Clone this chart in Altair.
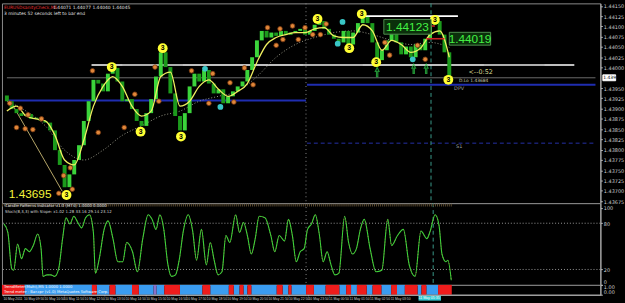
import altair as alt
import pandas as pd

# ---------------- data ----------------
# closes of the M5 bars, bar index 0..92
close_price = [1.43918, 1.43899, 1.43889, 1.43882, 1.43887, 1.43875, 1.43878, 1.43870, 1.43866, 1.43847,
               1.43799, 1.43763, 1.43709, 1.43740, 1.43775, 1.43811, 1.43870, 1.43918, 1.43970, 1.43961,
               1.43942, 1.43985, 1.43999, 1.43966, 1.43918, 1.43923, 1.43899, 1.43870, 1.43858, 1.43889,
               1.43923, 1.43978, 1.44037, 1.44001, 1.43937, 1.43882, 1.43847, 1.43889, 1.43954, 1.43985,
               1.43966, 1.43994, 1.43961, 1.43937, 1.43947, 1.43913, 1.43930, 1.43942, 1.43954, 1.43966,
               1.43994, 1.44025, 1.44066, 1.44089, 1.44073, 1.44085, 1.44077, 1.44089, 1.44080, 1.44085,
               1.44089, 1.44094, 1.44080, 1.44089, 1.44104, 1.44113, 1.44094, 1.44080, 1.44070, 1.44061,
               1.44089, 1.44056, 1.44085, 1.44108, 1.44123, 1.44108, 1.44061, 1.44018, 1.44042, 1.44066,
               1.44089, 1.44061, 1.44032, 1.44051, 1.44025, 1.44056, 1.44042, 1.44070, 1.44104, 1.44113,
               1.44080, 1.44037, 1.43975]
first_open = 1.43932

# fast moving average, every 2nd bar
ma_fast = [1.43894, 1.43906, 1.43882, 1.43875, 1.43870, 1.43835, 1.43775, 1.43763, 1.43823, 1.43906,
           1.43954, 1.43978, 1.43954, 1.43906, 1.43882, 1.43894, 1.43978, 1.43989, 1.43906, 1.43918,
           1.43954, 1.43970, 1.43947, 1.43930, 1.43942, 1.43961, 1.44013, 1.44056, 1.44073, 1.44080,
           1.44085, 1.44085, 1.44094, 1.44097, 1.44077, 1.44073, 1.44073, 1.44104, 1.44089, 1.44042,
           1.44066, 1.44056, 1.44037, 1.44047, 1.44080, 1.44089, 1.44025]
# slow moving average (dotted), every 4th bar
ma_slow = [1.43918, 1.43894, 1.43858, 1.43799, 1.43775, 1.43799, 1.43835, 1.43858, 1.43882, 1.43894,
           1.43918, 1.43930, 1.43942, 1.43978, 1.44025, 1.44056, 1.44073, 1.44085, 1.44089, 1.44080,
           1.44066, 1.44056, 1.44061, 1.44049]

trend_bar = [1.0, 11.5]
trend_price = [1.43913, 1.43699]

orange_bar = [0.6, 2.8, 4.4, 7.2, 2.0, 3.8, 5.4, 17.8, 19.0, 24.4, 26.6, 30.8, 31.6, 38.4, 13.2, 11.8, 10.8,
              13.6, 42.8, 42.0, 46.4, 47.2, 49.4, 51.2, 54.2, 56.0, 56.8, 57.4, 59.4, 60.6, 62.0, 63.6,
              65.2, 66.4, 78.6, 79.6, 85.4, 87.0]
orange_price = [1.43913, 1.43901, 1.43885, 1.43875, 1.43854, 1.43851, 1.43849, 1.43992, 1.43842, 1.43854,
                1.43935, 1.44001, 1.43918, 1.43992, 1.43756, 1.43737, 1.43694, 1.43704, 1.43985, 1.43913,
                1.43963, 1.43916, 1.43999, 1.43958, 1.44097, 1.44054, 1.44094, 1.44068, 1.44101, 1.44068,
                1.44097, 1.44080, 1.44080, 1.44106, 1.44061, 1.44030, 1.44054, 1.44020]
cyan_bar = [41.2, 44.4, 68.8, 69.8, 81.0, 84.4]
cyan_price = [1.43997, 1.43904, 1.44058, 1.44111, 1.44094, 1.44020]
wave_bar = [12.4, 21.8, 27.8, 32.4, 36.2, 64.6, 71.2, 73.8, 76.8, 89.0, 91.8]
wave_price = [1.43690, 1.44001, 1.43844, 1.44047, 1.43832, 1.44118, 1.44047, 1.44130, 1.44013, 1.44116, 1.43970]
wave_label = ["3"] * 11
arrow_bar = [77.0, 84.6, 87.2]
arrow_price = [1.43989, 1.43997, 1.43997]

# horizontal levels
sr_price = [1.44006, 1.44125]
sr_from = [17.6, 73.8]
sr_to = [118.0, 93.8]
sr_grey_from = [24.0, 61.6, 99.2]
sr_grey_to = [36.6, 74.0, 111.8]
bid_price = 1.43975
prev_pivot = 1.43920
dpv_price = 1.43958
s1_price = 1.43816
red_price = [1.44101, 1.44070]
red_from = [86.4, 87.2]
red_to = [89.0, 91.0]
day_sep_bar = 62.2
cursor_bar = 88.2
x_end = 122.4
last_bar = 92.0

price_ticks = [1.43675, 1.43700, 1.43725, 1.43750, 1.43775, 1.43800, 1.43825, 1.43850, 1.43875, 1.43900,
               1.43925, 1.43950, 1.44000, 1.44025, 1.44050, 1.44075, 1.44100, 1.44125, 1.44150]

# stochastic
stoch_bar = [0.4, 1.2, 2.0, 2.4, 3.2, 4.0, 4.8, 5.6, 6.4, 7.3,
             8.0, 8.4, 9.2, 10.0, 10.8, 11.6, 12.4, 13.1, 13.9, 14.7,
             15.5, 16.3, 17.1, 17.9, 18.7, 19.1, 19.9, 20.9, 21.7, 22.7,
             23.7, 24.7, 25.5, 26.7, 27.7, 28.8, 29.9, 30.7, 31.5, 32.3,
             33.1, 33.9, 34.7, 35.5, 36.3, 37.1, 38.1, 39.0, 39.8, 40.8,
             41.8, 42.6, 43.4, 44.2, 45.0, 45.8, 46.6, 47.8, 48.6, 49.4,
             50.2, 51.0, 51.8, 52.6, 53.8, 55.0, 55.8, 56.7, 57.8, 58.6,
             59.4, 60.2, 61.0, 61.8, 62.5, 63.3, 64.1, 64.9, 65.7, 66.5,
             67.3, 68.1, 68.9, 70.1, 70.9, 71.7, 72.5, 73.3, 74.1, 75.3,
             76.5, 77.7, 78.9, 79.7, 80.9, 82.1, 83.3, 84.5, 85.7, 86.9,
             87.6, 88.6, 89.4, 90.0, 90.8, 91.2, 91.9]
stoch_val = [79, 68, 21, 19, 53, 34, 47, 43, 51, 66,
             47, 11, 13, 13, 11, 21, 60, 87, 79, 89,
             81, 74, 87, 91, 68, 15, 34, 72, 83, 60,
             30, 30, 55, 43, 17, 60, 91, 85, 72, 91,
             72, 28, 11, 13, 34, 70, 91, 70, 32, 72,
             26, 55, 32, 13, 17, 64, 55, 91, 68, 81,
             64, 40, 60, 89, 87, 64, 43, 64, 57, 85,
             64, 30, 43, 47, 72, 79, 91, 66, 30, 43,
             26, 13, 15, 89, 55, 40, 47, 72, 85, 47,
             17, 19, 85, 51, 64, 72, 26, 11, 70, 60,
             70, 91, 77, 40, 30, 32, 6]
stoch_levels = [20, 80]
stoch_ticks = [0, 20, 80, 100]
assert len(stoch_bar) == len(stoch_val)

# trend meter strip
strip_from = [0, 4.6, 18.4, 19.4, 22, 23.2, 26.6, 28, 31, 31.6, 33.2, 36.4, 41, 42.6, 46.4, 47.4, 48.6,
              49.4, 50.2, 51, 56.2, 57.4, 58.6, 59.2, 62.2, 63.8, 66.2, 69, 70.4, 71.4, 72.6, 74.6, 75.8,
              77.6, 79.6, 80.8, 82.4, 85, 85.8, 86.8, 89.2]
strip_to = strip_from[1:] + [92.0]
strip_state = ["down", "up", "down", "up", "down", "up", "down", "up", "flat", "up", "down", "up", "down",
               "up", "down", "up", "down", "up", "down", "up", "down", "up", "down", "up", "down", "up",
               "down", "up", "down", "up", "down", "up", "down", "up", "down", "up", "down", "up", "down",
               "up", "down"]
assert len(strip_from) == len(strip_state)

x_ticks = [0.2, 4.4, 8.6, 12.6, 16.8, 21.0, 25.2, 29.4, 33.6, 37.6, 41.8, 46.0, 50.2, 54.4, 58.6, 62.6,
           66.8, 71.0, 75.2, 79.4]
x_tick_labels = ["10 May 2011", "10 May 09:50", "10 May 10:50", "10 May 11:50", "10 May 12:50",
                 "10 May 13:50", "10 May 14:50", "10 May 15:50", "10 May 16:50", "10 May 17:50",
                 "10 May 18:50", "10 May 19:50", "10 May 20:50", "10 May 21:50", "10 May 22:50",
                 "10 May 23:50", "11 May 00:50", "11 May 01:50", "11 May 02:50", "11 May 03:50"]
cursor_label = "11 May 05:35"

# ---------------- frames ----------------
n = len(close_price)
opens = [first_open] + close_price[:-1]
candles = pd.DataFrame({"bar": list(range(n)), "open": opens, "close": close_price,
                        "dir": ["up" if c >= o else "down" for o, c in zip(opens, close_price)]})
fast_df = pd.DataFrame({"bar": list(range(0, 93, 2)), "p": ma_fast})
slow_df = pd.DataFrame({"bar": list(range(0, 93, 4)), "p": ma_slow})
trend_df = pd.DataFrame({"bar": trend_bar, "p": trend_price})
orange_df = pd.DataFrame({"bar": orange_bar, "p": orange_price})
cyan_df = pd.DataFrame({"bar": cyan_bar, "p": cyan_price})
wave_df = pd.DataFrame({"bar": wave_bar, "p": wave_price, "t": wave_label})
arrow_df = pd.DataFrame({"bar": arrow_bar, "p": arrow_price})
sr_df = pd.DataFrame({"x0": sr_from, "x1": sr_to, "p": sr_price})
srg_df = pd.DataFrame({"x0": sr_grey_from, "x1": sr_grey_to, "p": [sr_price[0]] * 3})
bid_df = pd.DataFrame({"x0": [0], "x1": [x_end], "p": [bid_price]})
pp_df = pd.DataFrame({"x0": [0, day_sep_bar + 0.2], "x1": [day_sep_bar, x_end], "p": [prev_pivot, dpv_price]})
s1_df = pd.DataFrame({"x0": [day_sep_bar + 0.2], "x1": [x_end], "p": [s1_price]})
red_df = pd.DataFrame({"x0": red_from, "x1": red_to, "p": red_price})
vsep_df = pd.DataFrame({"bar": [day_sep_bar]})
vcur_df = pd.DataFrame({"bar": [cursor_bar]})
stoch_df = pd.DataFrame({"bar": stoch_bar, "v": stoch_val})
lvl_df = pd.DataFrame({"v": stoch_levels})
strip_df = pd.DataFrame({"x0": strip_from, "x1": strip_to, "state": strip_state,
                         "lo": [0] * len(strip_from), "hi": [1] * len(strip_from)})

# ---------------- scales / helpers ----------------
W = 608
FONT = "Liberation Sans"
xs = alt.Scale(domain=[0, x_end], nice=False, zero=False)
ps = alt.Scale(domain=[1.43670, 1.44156], nice=False, zero=False)
ss = alt.Scale(domain=[0, 106], nice=False, zero=False)

small_axis = dict(orient="right", grid=False, title=None, labelFontSize=5, labelColor="#d0d0d0",
                  labelFont="DejaVu Sans", domainColor="#b8b8b8", tickColor="#b8b8b8", tickSize=2,
                  labelPadding=1)
p_axis = alt.Axis(values=price_ticks, format=".5f", **small_axis)
s_axis = alt.Axis(values=stoch_ticks, format="d", labelFlush=True, **small_axis)


def X(f):
    return alt.X(f, type="quantitative", scale=xs, axis=None)


def P(f):
    return alt.Y(f, type="quantitative", scale=ps, axis=p_axis)


def S(f):
    return alt.Y(f, type="quantitative", scale=ss, axis=s_axis)


def hrule(df, color, width, dash=None):
    kw = dict(color=color, strokeWidth=width)
    if dash:
        kw["strokeDash"] = dash
    return alt.Chart(df).mark_rule(**kw).encode(x=X("x0"), x2="x1:Q", y=P("p"))


def box(text_df, w, h, fill, stroke, xpos=None):
    r = h / w
    path = f"M-1,-{r:.3f}L1,-{r:.3f}L1,{r:.3f}L-1,{r:.3f}Z"
    return alt.Chart(text_df).mark_point(shape=path, size=w * w, filled=True, fill=fill, stroke=stroke,
                                         strokeWidth=1, opacity=1).encode(
        x=alt.value(xpos) if xpos is not None else X("bar"), y=P("p"))


# ---------------- main panel ----------------
lbl1 = pd.DataFrame({"bar": [83.3], "p": [1.44099], "t": ["1.44123"]})
lbl2 = pd.DataFrame({"bar": [96.3], "p": [1.44070], "t": ["1.44019"]})
lbl_low = pd.DataFrame({"bar": [0.4], "p": [1.43692], "t": ["1.43695"]})
timer = pd.DataFrame({"bar": [96.0], "p": [1.43982], "t": ["<--0:52"]})
dlo = pd.DataFrame({"bar": [94.0], "p": [1.43967], "t": ["D.Lo 1.43684"]})
piv_txt = pd.DataFrame({"bar": [93.0, 93.4], "p": [1.43950, 1.43810], "t": ["DPV", "S1"]})
bid_lbl = pd.DataFrame({"p": [bid_price], "t": ["1.43975"]})

main_layers = [
    hrule(bid_df, "#6c6c6c", 1),
    hrule(pp_df, "#1f2db0", 2),
    hrule(s1_df, "#2630a8", 1, [4, 3]),
    alt.Chart(vsep_df).mark_rule(color="#8a8a8a", strokeDash=[1, 3], strokeWidth=1).encode(x=X("bar")),
    alt.Chart(vcur_df).mark_rule(color="#3a9a8a", strokeDash=[4, 3], strokeWidth=1).encode(x=X("bar")),
    hrule(sr_df, "#ffffff", 1.6),
    hrule(srg_df, "#a8a8a8", 1.6),
    alt.Chart(slow_df).mark_line(color="#9a9a8a", strokeDash=[1, 2], strokeWidth=1,
                                 interpolate="monotone").encode(x=X("bar"), y=P("p")),
    alt.Chart(trend_df).mark_line(color="#b8a86a", strokeWidth=1).encode(x=X("bar"), y=P("p")),
    alt.Chart(candles).transform_filter(alt.datum.dir == "down").mark_bar(size=4, color="#1c9a1c").encode(
        x=X("bar"), y=P("open"), y2="close:Q"),
    alt.Chart(candles).transform_filter(alt.datum.dir == "up").mark_bar(size=4, color="#3bd43b").encode(
        x=X("bar"), y=P("open"), y2="close:Q"),
    alt.Chart(fast_df).mark_line(color="#f0f060", strokeWidth=1.3, interpolate="monotone").encode(
        x=X("bar"), y=P("p")),
    hrule(red_df, "#c82424", 1.6),
    alt.Chart(orange_df).mark_circle(size=22, color="#e0873a", stroke="#7a3a10", strokeWidth=0.8,
                                     opacity=1).encode(x=X("bar"), y=P("p")),
    alt.Chart(cyan_df).mark_circle(size=34, color="#39c6c6", opacity=1).encode(x=X("bar"), y=P("p")),
    alt.Chart(arrow_df).mark_point(shape="arrow", size=90, filled=False, color="#2fcf4a",
                                   strokeWidth=1.2).encode(x=X("bar"), y=P("p")),
    alt.Chart(wave_df).mark_circle(size=100, color="#ffff33", opacity=1).encode(x=X("bar"), y=P("p")),
    alt.Chart(wave_df).mark_text(font=FONT, fontSize=7, fontWeight="bold", color="#000000",
                                 baseline="middle").encode(x=X("bar"), y=P("p"), text="t:N"),
    box(lbl1, 48, 15, "#0b300b", "#4f8f4f"),
    alt.Chart(lbl1).mark_text(font=FONT, fontSize=12, color="#44f044", baseline="middle").encode(
        x=X("bar"), y=P("p"), text="t:N"),
    box(lbl2, 42, 13, "#0b300b", "#4f8f4f"),
    alt.Chart(lbl2).mark_text(font=FONT, fontSize=12, color="#44f044", baseline="middle").encode(
        x=X("bar"), y=P("p"), text="t:N"),
    alt.Chart(lbl_low).mark_text(font=FONT, fontSize=12, color="#f5f53a", align="left",
                                 baseline="middle").encode(x=X("bar"), y=P("p"), text="t:N"),
    alt.Chart(timer).mark_text(font="DejaVu Sans", fontSize=6.5, color="#d8d890", align="left",
                               baseline="bottom").encode(x=X("bar"), y=P("p"), text="t:N"),
    alt.Chart(dlo).mark_text(font="DejaVu Sans", fontSize=4.5, color="#c8c8a8", align="left",
                             baseline="middle").encode(x=X("bar"), y=P("p"), text="t:N"),
    alt.Chart(piv_txt).mark_text(font="DejaVu Sans", fontSize=5, color="#a0a0a0", align="left",
                                 baseline="middle").encode(x=X("bar"), y=P("p"), text="t:N"),
    box(bid_lbl, 13, 6, "#ffffff", "#ffffff", xpos=617),
    alt.Chart(bid_lbl).mark_text(
        font="DejaVu Sans", fontSize=4.5, color="#000000", align="left", baseline="middle").encode(
        x=alt.value(611), y=P("p"), text="t:N"),
    alt.Chart(pd.DataFrame({"t": ["EURUSDsanityCheck,M5"]})).mark_text(
        font="DejaVu Sans", fontSize=4.5, color="#e03030", align="left", baseline="top").encode(
        x=alt.value(2), y=alt.value(1.5), text="t:N"),
    alt.Chart(pd.DataFrame({"t": ["1.44071 1.44077 1.44040 1.44045"]})).mark_text(
        font="DejaVu Sans", fontSize=4.5, color="#e0e0e0", align="left", baseline="top").encode(
        x=alt.value(52), y=alt.value(1.5), text="t:N"),
    alt.Chart(pd.DataFrame({"t": ["3 minutes 52 seconds left to bar end"]})).mark_text(
        font="DejaVu Sans", fontSize=4.5, color="#e0e0e0", align="left", baseline="top").encode(
        x=alt.value(2), y=alt.value(8), text="t:N"),
]
main = alt.layer(*main_layers).properties(width=W, height=203)

# ---------------- stochastic panel ----------------
band_df = pd.DataFrame({"x0": [0], "x1": [last_bar], "v": [103.5]})
stoch_layers = [
    alt.Chart(lvl_df).mark_rule(color="#9a9a9a", strokeDash=[1, 2]).encode(y=S("v")),
    alt.Chart(vsep_df).mark_rule(color="#8a8a8a", strokeDash=[1, 3]).encode(x=X("bar")),
    alt.Chart(vcur_df).mark_rule(color="#3a9a8a", strokeDash=[4, 3]).encode(x=X("bar")),
    alt.Chart(band_df).mark_rule(color="#5a4a30", strokeWidth=3, strokeDash=[1, 1]).encode(
        x=X("x0"), x2="x1:Q", y=S("v")),
    alt.Chart(stoch_df).mark_line(color="#c83030", strokeDash=[1, 2], strokeWidth=1,
                                  interpolate="monotone").encode(x=X("bar"), y=S("v")),
    alt.Chart(stoch_df).mark_line(color="#3ad13a", strokeWidth=1.1, interpolate="monotone").encode(
        x=X("bar"), y=S("v")),
    alt.Chart(pd.DataFrame({"t": ["Candle Patterns Indicator v1.0 (MT4) 1.0000 0.0000"]})).mark_text(
        font="DejaVu Sans", fontSize=4, color="#e0e0e0", align="left", baseline="middle").encode(
        x=alt.value(3), y=alt.value(2.5), text="t:N"),
    alt.Chart(pd.DataFrame({"t": ["Stoch(8,3,3) with Slope: x1.02  1.28  33.16  29.14  23.12"]})).mark_text(
        font="DejaVu Sans", fontSize=4, color="#d0d0d0", align="left", baseline="middle").encode(
        x=alt.value(3), y=alt.value(9), text="t:N"),
]
stoch = alt.layer(*stoch_layers).properties(width=W, height=83)

# ---------------- trend strip ----------------
label_expr = ("[" + ",".join(f"'{s}'" for s in x_tick_labels) + "][indexof(["
              + ",".join(str(v) for v in x_ticks) + "], datum.value)]")
x_axis = alt.Axis(values=x_ticks, labelExpr=label_expr, labelFontSize=3.4, labelColor="#d0d0d0",
                  labelFont=FONT, labelAlign="left", tickSize=1, tickColor="#b8b8b8",
                  domainColor="#b8b8b8", labelPadding=0.5, grid=False, title=None, zindex=1,
                  labelOverlap=False)
cur_df = pd.DataFrame({"x0": [cursor_bar - 3.0], "x1": [cursor_bar + 1.6], "t": [cursor_label]})
strip_y = alt.Y("lo:Q", scale=alt.Scale(domain=[0, 1]),
                axis=alt.Axis(values=[0, 1], format=".2f", labelFlush=True, **small_axis))
strip_layers = [
    alt.Chart(strip_df).transform_filter(alt.datum.state == "up").mark_rect(color="#3a9cf0").encode(
        x=alt.X("x0:Q", scale=xs, axis=x_axis), x2="x1:Q", y=strip_y, y2="hi:Q"),
    alt.Chart(strip_df).transform_filter(alt.datum.state == "down").mark_rect(color="#ee1c1c").encode(
        x=alt.X("x0:Q", scale=xs, axis=x_axis), x2="x1:Q", y=strip_y, y2="hi:Q"),
    alt.Chart(strip_df).transform_filter(alt.datum.state == "flat").mark_rect(color="#8a70c8").encode(
        x=alt.X("x0:Q", scale=xs, axis=x_axis), x2="x1:Q", y=strip_y, y2="hi:Q"),
    alt.Chart(pd.DataFrame({"t": ["TrendMeter(Multi),M5 1.0000 1.0000"]})).mark_text(
        font="DejaVu Sans", fontSize=3.8, color="#ffffff", align="left", baseline="middle").encode(
        x=alt.value(2), y=alt.value(2.5), text="t:N"),
    alt.Chart(pd.DataFrame({"t": ["Trend meter - Bar.cpr (v1.0) MetaQuotes Software Corp."]})).mark_text(
        font="DejaVu Sans", fontSize=3.8, color="#ffffff", align="left", baseline="middle").encode(
        x=alt.value(2), y=alt.value(7.5), text="t:N"),
    alt.Chart(cur_df).mark_rect(color="#33c8d0").encode(
        x=alt.X("x0:Q", scale=xs, axis=x_axis), x2="x1:Q", y=alt.value(11), y2=alt.value(16)),
    alt.Chart(cur_df).mark_text(font=FONT, fontSize=3.6, color="#ffffff", align="left",
                                baseline="middle").encode(
        x=alt.X("x0:Q", scale=xs, axis=x_axis), y=alt.value(13.5), text="t:N"),
]
strip = alt.layer(*strip_layers).properties(width=W, height=10)

chart = alt.vconcat(main, stoch, strip, spacing=0, bounds="flush").properties(padding=0).configure(
    background="#000000").configure_view(stroke="#8c8c8c", strokeWidth=1, fill="#000000")

chart.save("out.html", embed_options={"renderer": "svg", "actions": False})
